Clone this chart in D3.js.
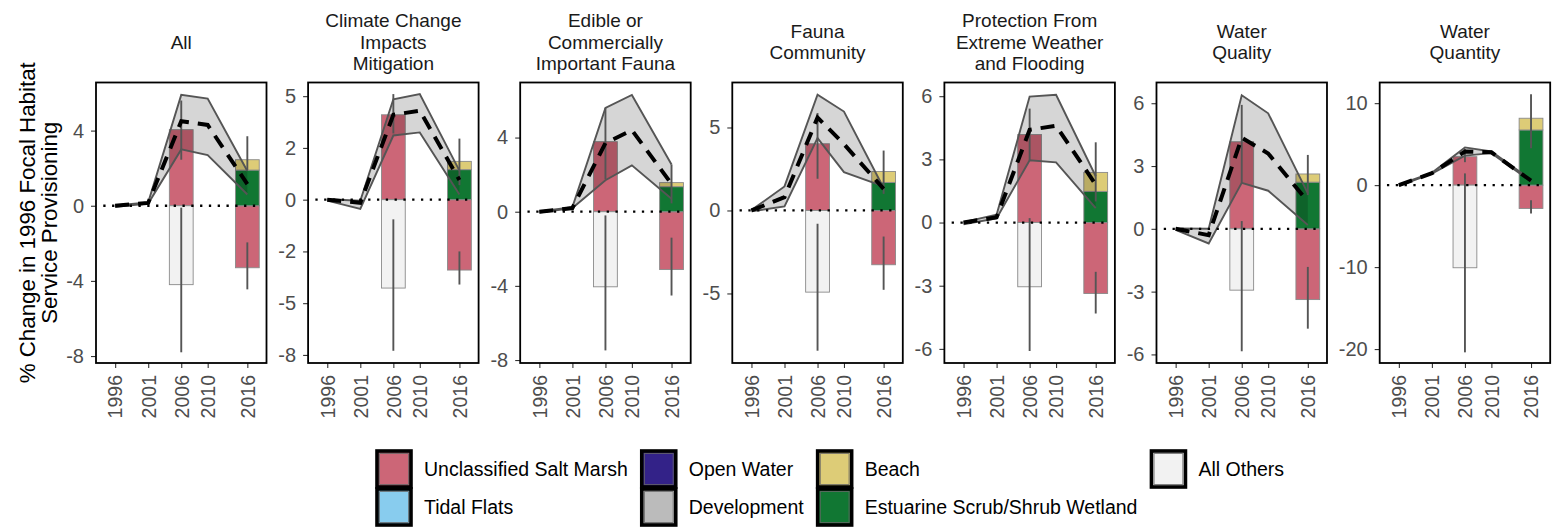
<!DOCTYPE html>
<html>
<head>
<meta charset="utf-8">
<script src="https://cdn.jsdelivr.net/npm/d3@7"></script>
<style>
  body { margin: 0; background: #fff; }
  text { font-family: "Liberation Sans", Arial, sans-serif; }
</style>
</head>
<body>
<div id="chart"></div>
<script>
// ---- data ----
const years = [1996, 2001, 2006, 2010, 2016];
const barYears = [2006, 2016];

const panelTitles = [
  ["All"],
  ["Climate Change", "Impacts", "Mitigation"],
  ["Edible or", "Commercially", "Important Fauna"],
  ["Fauna", "Community"],
  ["Protection From", "Extreme Weather", "and Flooding"],
  ["Water", "Quality"],
  ["Water", "Quantity"]
];

const yDomains = [
  [-8.37, 6.56], [-7.89, 5.66], [-8.16, 6.97], [-9.19, 7.71],
  [-6.67, 6.65], [-6.41, 6.99], [-21.7, 12.52]
];
const yTicks = [
  [-8, -4, 0, 4], [-7.5, -5, -2.5, 0, 2.5, 5], [-8, -4, 0, 4], [-5, 0, 5],
  [-6, -3, 0, 3, 6], [-6, -3, 0, 3, 6], [-20, -10, 0, 10]
];
const yTickLabels = [
  ["-8", "-4", "0", "4"], ["-8", "-5", "-2", "0", "2", "5"], ["-8", "-4", "0", "4"],
  ["-5", "0", "5"], ["-6", "-3", "0", "3", "6"], ["-6", "-3", "0", "3", "6"],
  ["-20", "-10", "0", "10"]
];

// mean change (dashed) and its range (ribbon), one row per panel, one value per year
const meanChange = [
  [0, 0.15, 4.5, 4.3, 1.15],
  [0, -0.15, 4.1, 4.3, 0.95],
  [0, 0.2, 3.7, 4.4, 1.5],
  [0, 0.8, 5.6, 4.0, 1.3],
  [0, 0.25, 4.4, 4.6, 1.8],
  [0, -0.3, 4.35, 3.6, 1.3],
  [0, 1.45, 4.1, 4.0, 0.55]
];
const upperChange = [
  [0.02, 0.18, 5.9, 5.7, 1.85],
  [0.02, -0.05, 4.85, 5.1, 1.4],
  [0.02, 0.25, 5.6, 6.3, 2.55],
  [0.02, 1.45, 6.97, 5.96, 1.35],
  [0.02, 0.37, 5.98, 6.07, 2.2],
  [0.02, 0.0, 6.38, 5.52, 1.69],
  [0.05, 1.5, 4.6, 4.1, 0.65]
];
const lowerChange = [
  [-0.05, 0.12, 3.0, 2.7, 0.6],
  [-0.05, -0.45, 3.1, 3.25, 0.25],
  [-0.05, 0.2, 1.7, 2.5, 0.7],
  [-0.05, 0.24, 4.36, 2.31, 1.45],
  [-0.08, 0.2, 2.96, 2.86, 0.68],
  [-0.05, -0.7, 2.2, 1.82, 0.18],
  [-0.1, 1.4, 3.6, 3.9, 0.45]
];

// habitat contributions at 2006 and 2016, one row per panel
const saltMarsh = [[4.05, -3.3], [4.1, -3.4], [3.78, -3.12], [4.02, -3.27], [4.18, -3.37], [4.16, -3.38], [3.47, -2.85]];
const estuarine = [[0, 1.9], [0, 1.45], [0, 1.35], [0, 1.69], [0, 1.48], [0, 2.23], [0, 6.73]];
const beach     = [[0, 0.55], [0, 0.4], [0, 0.22], [0, 0.66], [0, 0.9], [0, 0.39], [0, 1.43]];
const allOthers = [[-4.2, 0], [-4.27, 0], [-4.05, 0], [-4.92, 0], [-3.05, 0], [-2.93, 0], [-10.08, 0]];

// error bars [low, high] for gains and for losses
const errGain = [
  [[2.45, 5.6], [1.9, 3.7]],
  [[3.2, 5.1], [0.7, 2.95]],
  [[1.75, 5.6], [0.45, 2.55]],
  [[1.91, 5.87], [1.0, 3.61]],
  [[2.95, 5.41], [1.0, 3.81]],
  [[2.2, 5.92], [1.61, 3.53]],
  [[2.8, 4.4], [4.49, 11.1]]
];
const errLoss = [
  [[-7.8, -0.1], [-4.45, -1.95]],
  [[-7.3, -0.95], [-4.1, -2.5]],
  [[-7.48, -0.2], [-4.52, -1.4]],
  [[-8.45, -0.8], [-4.78, -1.57]],
  [[-6.1, 0.21], [-4.32, -2.34]],
  [[-5.85, 0.37], [-4.77, -1.82]],
  [[-20.4, 1.43], [-3.47, -1.84]]
];

const habitatNames = ["Unclassified Salt Marsh", "Tidal Flats", "Open Water", "Development",
  "Beach", "Estuarine Scrub/Shrub Wetland", "All Others"];
const habitatColors = ["#CC6677", "#88CCEE", "#332288", "#BBBBBB", "#DDCC77", "#117733", "#F2F2F2"];

// ---- layout ----
const width = 1564, height = 527;
const panelW = 170.5, panelH = 280.5, panelTop = 82.5;
const panelGap = 11.8;

const svg = d3.select("#chart").append("svg")
  .attr("width", width)
  .attr("height", height);

const color = d3.scaleOrdinal().domain(habitatNames).range(habitatColors);
const stackKeys = ["Unclassified Salt Marsh", "Estuarine Scrub/Shrub Wetland", "Beach", "All Others"];

const x = d3.scaleLinear().domain([1993.1, 2018.9]).range([0, panelW]);
const barHalf = 1.8;

let left = 96;

panelTitles.forEach((title, i) => {
  const y = d3.scaleLinear().domain(yDomains[i]).range([panelH, 0]);
  const g = svg.append("g");

  // y axis first so its width sets the panel spacing
  const yAxisG = g.append("g")
    .call(d3.axisLeft(y)
      .tickValues(yTicks[i])
      .tickFormat((d, j) => yTickLabels[i][j])
      .tickSize(5)
      .tickPadding(7));
  yAxisG.select(".domain").remove();
  yAxisG.attr("font-size", 20).attr("font-family", "Liberation Sans, Arial, sans-serif");
  yAxisG.selectAll("text").attr("fill", "#4d4d4d");
  yAxisG.selectAll("line").attr("stroke", "#333").attr("stroke-width", 1.1);

  if (i > 0) left += panelGap + yAxisG.node().getBBox().width;
  g.attr("transform", "translate(" + left + "," + panelTop + ")");

  // x axis
  const xAxisG = g.append("g")
    .attr("transform", "translate(0," + panelH + ")")
    .call(d3.axisBottom(x).tickValues(years).tickFormat(d3.format("d")).tickSize(5));
  xAxisG.select(".domain").remove();
  xAxisG.attr("font-size", 19.5).attr("font-family", "Liberation Sans, Arial, sans-serif");
  xAxisG.selectAll("line").attr("stroke", "#333").attr("stroke-width", 1.1);
  xAxisG.selectAll("text")
    .attr("fill", "#4d4d4d")
    .attr("transform", "rotate(-90)")
    .attr("text-anchor", "end")
    .attr("x", -12)
    .attr("y", 0)
    .attr("dy", "0.35em");

  // stacked habitat bars
  const table = barYears.map((yr, j) => ({
    year: yr,
    "Unclassified Salt Marsh": saltMarsh[i][j],
    "Estuarine Scrub/Shrub Wetland": estuarine[i][j],
    "Beach": beach[i][j],
    "All Others": allOthers[i][j]
  }));
  const series = d3.stack().keys(stackKeys).offset(d3.stackOffsetDiverging)(table);

  g.append("g").selectAll("g")
    .data(series)
    .join("g")
    .attr("fill", d => color(d.key))
    .selectAll("rect")
    .data(d => d.filter(s => s[0] !== s[1]))
    .join("rect")
    .attr("x", d => x(d.data.year - barHalf))
    .attr("width", d => x(d.data.year + barHalf) - x(d.data.year - barHalf))
    .attr("y", d => y(Math.max(d[0], d[1])))
    .attr("height", d => Math.abs(y(d[0]) - y(d[1])))
    .attr("stroke", "#8a8a8a")
    .attr("stroke-width", 0.9);

  // range ribbon
  const band = years.map((yr, j) => ({ year: yr, lo: lowerChange[i][j], hi: upperChange[i][j], mean: meanChange[i][j] }));

  g.append("path")
    .datum(band)
    .attr("fill", "#000")
    .attr("fill-opacity", 0.16)
    .attr("d", d3.area().x(d => x(d.year)).y0(d => y(d.lo)).y1(d => y(d.hi)));

  ["lo", "hi"].forEach(k => {
    g.append("path")
      .datum(band)
      .attr("fill", "none")
      .attr("stroke", "#555")
      .attr("stroke-width", 1.9)
      .attr("d", d3.line().x(d => x(d.year)).y(d => y(d[k])));
  });

  // error bars
  barYears.forEach((yr, j) => {
    [errGain[i][j], errLoss[i][j]].forEach(e => {
      g.append("line")
        .attr("x1", x(yr)).attr("x2", x(yr))
        .attr("y1", y(e[0])).attr("y2", y(e[1]))
        .attr("stroke", "#555")
        .attr("stroke-width", 1.9);
    });
  });

  // mean change
  g.append("path")
    .datum(band)
    .attr("fill", "none")
    .attr("stroke", "#000")
    .attr("stroke-width", 4)
    .attr("stroke-dasharray", "14,9")
    .attr("d", d3.line().x(d => x(d.year)).y(d => y(d.mean)));

  // zero reference
  g.append("line")
    .attr("x1", x(1994.2)).attr("x2", x(2017.8))
    .attr("y1", y(0)).attr("y2", y(0))
    .attr("stroke", "#000")
    .attr("stroke-width", 2.3)
    .attr("stroke-dasharray", "2.3,6.5");

  // panel border
  g.append("rect")
    .attr("width", panelW)
    .attr("height", panelH)
    .attr("fill", "none")
    .attr("stroke", "#000")
    .attr("stroke-width", 1.8);

  // facet title
  const lineH = 21.5;
  const t = g.append("text")
    .attr("text-anchor", "middle")
    .attr("font-size", 19)
    .attr("fill", "#1a1a1a");
  title.forEach((s, k) => {
    t.append("tspan")
      .attr("x", panelW / 2)
      .attr("y", 42 - panelTop + (k - (title.length - 1) / 2) * lineH)
      .attr("dy", "0.35em")
      .text(s);
  });

  left += panelW;
});

// y axis title
["% Change in 1996 Focal Habitat", "Service Provisioning"].forEach((s, k) => {
  svg.append("text")
    .attr("transform", "translate(" + (27 + k * 22) + "," + (panelTop + panelH / 2) + ") rotate(-90)")
    .attr("text-anchor", "middle")
    .attr("dy", "0.35em")
    .attr("font-size", 22.3)
    .attr("fill", "#000")
    .text(s);
});

// legend, two rows, filled column by column
const legend = svg.append("g");
const keyW = 34, keyH = 36, rowTop = [451, 489];
let colX = 377;
d3.range(Math.ceil(habitatNames.length / 2)).forEach(c => {
  let maxW = 0;
  [0, 1].forEach(r => {
    const idx = c * 2 + r;
    if (idx >= habitatNames.length) return;
    const name = habitatNames[idx];
    legend.append("rect")
      .attr("x", colX).attr("y", rowTop[r])
      .attr("width", keyW).attr("height", keyH)
      .attr("fill", color(name))
      .attr("stroke", "#000")
      .attr("stroke-width", 3.6);
    legend.append("rect")
      .attr("x", colX + 2.6).attr("y", rowTop[r] + 2.6)
      .attr("width", keyW - 5.2).attr("height", keyH - 5.2)
      .attr("fill", "none")
      .attr("stroke", "#666")
      .attr("stroke-width", 0.8);
    const txt = legend.append("text")
      .attr("x", colX + 47)
      .attr("y", rowTop[r] + keyH / 2)
      .attr("dy", "0.35em")
      .attr("font-size", 19.5)
      .attr("fill", "#000")
      .text(name);
    maxW = Math.max(maxW, txt.node().getComputedTextLength());
  });
  colX += 47 + maxW + 14;
});
</script>
</body>
</html>
